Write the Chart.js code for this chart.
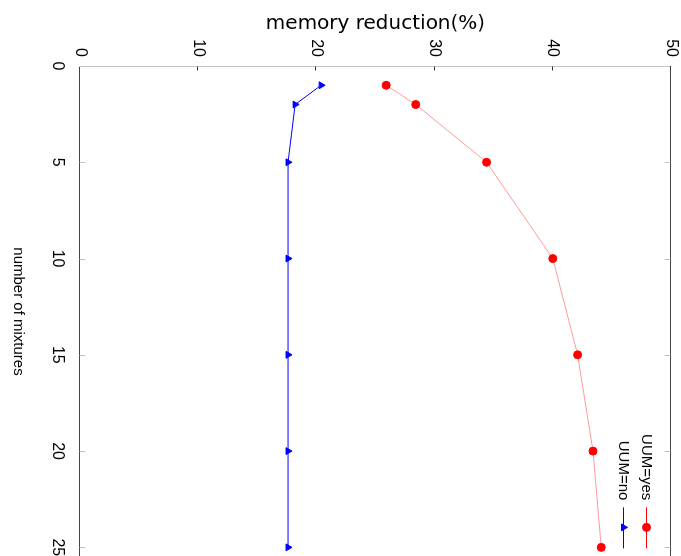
<!DOCTYPE html>
<html>
<head>
<meta charset="utf-8">
<script src="https://cdn.jsdelivr.net/npm/chart.js@4/dist/chart.umd.min.js"></script>
<style>
  html, body { margin: 0; padding: 0; background: #fff; overflow: hidden; }
  /* the plot is drawn upright and then turned a quarter clockwise;
     the far end of the x axis runs past the bottom of the window */
  #wrap {
    position: absolute; left: 0; top: 0;
    width: 562px; height: 681px;
    transform-origin: 0 0;
    transform: translate(681px, 0) rotate(90deg);
  }
</style>
</head>
<body>
<div id="wrap"><canvas id="chart" width="562" height="681"></canvas></div>
<script>
const mixtures = [1, 2, 5, 10, 15, 20, 25];
const uumYes = [25.9, 28.4, 34.4, 40.0, 42.1, 43.4, 44.1];
const uumNo = [20.4, 18.2, 17.6, 17.6, 17.6, 17.6, 17.6];
const seriesLabels = ["UUM=yes", "UUM=no"];
const xTitle = "number of mixtures";
const yTitle = "memory reduction(%)";

const sans = '"Liberation Sans", Arial, sans-serif';
Chart.defaults.font.family = sans;
Chart.defaults.color = "#000";

const toPoints = (ys) => ys.map((y, i) => ({ x: mixtures[i], y }));

// inward tick marks, top border and a gnuplot style key
const framePlugin = {
  id: "frame",
  afterDraw(chart) {
    const { ctx, chartArea: a, scales } = chart;
    const top = Math.round(a.top) + 0.5;
    const bottom = Math.round(a.bottom) + 0.5;
    const left = Math.round(a.left) + 0.5;
    ctx.save();
    ctx.lineWidth = 1;

    ctx.strokeStyle = "#444";
    ctx.beginPath();
    ctx.moveTo(a.left, top);
    ctx.lineTo(a.right, top);
    ctx.stroke();

    ctx.strokeStyle = "#c4c4c4";
    scales.x.ticks.forEach((t) => {
      if (t.value === 0) return;
      const px = Math.round(scales.x.getPixelForValue(t.value)) + 0.5;
      ctx.beginPath();
      ctx.moveTo(px, bottom);
      ctx.lineTo(px, bottom - 6);
      ctx.moveTo(px, top);
      ctx.lineTo(px, top + 6);
      ctx.stroke();
    });

    ctx.strokeStyle = "#333";
    scales.y.ticks.forEach((t) => {
      if (t.value === 0) return;
      const py = Math.round(scales.y.getPixelForValue(t.value)) + 0.5;
      ctx.beginPath();
      ctx.moveTo(left, py);
      ctx.lineTo(left + 4, py);
      ctx.stroke();
    });

    // key: text first, then line + marker, placed from the x=25 tick
    const x25 = scales.x.getPixelForValue(25);
    ctx.font = "15px " + sans;
    ctx.textAlign = "right";
    ctx.textBaseline = "middle";
    chart.data.datasets.forEach((ds, i) => {
      const y = Math.round(a.top + 23.5 + i * 23) + 0.5;
      ctx.fillStyle = "#000";
      ctx.fillText(ds.label, x25 - 47, y);
      ctx.strokeStyle = ds.pointBackgroundColor;
      ctx.beginPath();
      ctx.moveTo(x25 - 40, y);
      ctx.lineTo(x25 + 1, y);
      ctx.stroke();
      ctx.fillStyle = ds.pointBackgroundColor;
      Chart.helpers.drawPoint(ctx, { pointStyle: ds.pointStyle, radius: ds.pointRadius, rotation: 0, borderWidth: 1 }, x25 - 20, y);
    });
    ctx.restore();
  },
};

new Chart(document.getElementById("chart"), {
  type: "line",
  data: {
    datasets: [
      {
        label: seriesLabels[0],
        data: toPoints(uumYes),
        borderColor: "rgba(255, 0, 0, 0.4)",
        borderWidth: 1,
        pointStyle: "circle",
        pointRadius: 4,
        pointBackgroundColor: "#ff0000",
        pointBorderColor: "#ff0000",
        pointBorderWidth: 1,
        tension: 0,
      },
      {
        label: seriesLabels[1],
        data: toPoints(uumNo),
        borderColor: "#0000ff",
        borderWidth: 1,
        pointStyle: "triangle",
        pointRadius: 4,
        pointBackgroundColor: "#0000ff",
        pointBorderColor: "#0000ff",
        pointBorderWidth: 1,
        tension: 0,
      },
    ],
  },
  options: {
    responsive: false,
    animation: false,
    layout: { padding: { top: 10, right: 0, bottom: 0, left: 0 } },
    plugins: { legend: { display: false }, tooltip: { enabled: false } },
    scales: {
      x: {
        type: "linear",
        min: 0,
        max: 25.5,
        grid: { display: false, drawTicks: false },
        border: { display: true, color: "#444", width: 1 },
        ticks: { stepSize: 5, includeBounds: false, padding: 13, font: { size: 16 }, maxRotation: 0 },
        title: { display: true, text: xTitle, font: { size: 15 }, padding: { top: 0, bottom: 9 } },
        afterFit: (scale) => {
          scale.height = 80;
          scale.paddingLeft = 0;
          scale.paddingRight = 0;
        },
      },
      y: {
        min: 0,
        max: 50,
        grid: { display: false, drawTicks: false },
        border: { display: true, color: "#c4c4c4", width: 1 },
        ticks: { stepSize: 10, padding: 9, font: { size: 16 } },
        title: { display: true, text: yTitle, font: { size: 20, family: '"DejaVu Sans", sans-serif' }, padding: { top: 12, bottom: 0 } },
        afterFit: (scale) => {
          scale.width = 66;
          scale.paddingTop = 0;
          scale.paddingBottom = 0;
        },
      },
    },
  },
  plugins: [framePlugin],
});
</script>
</body>
</html>
